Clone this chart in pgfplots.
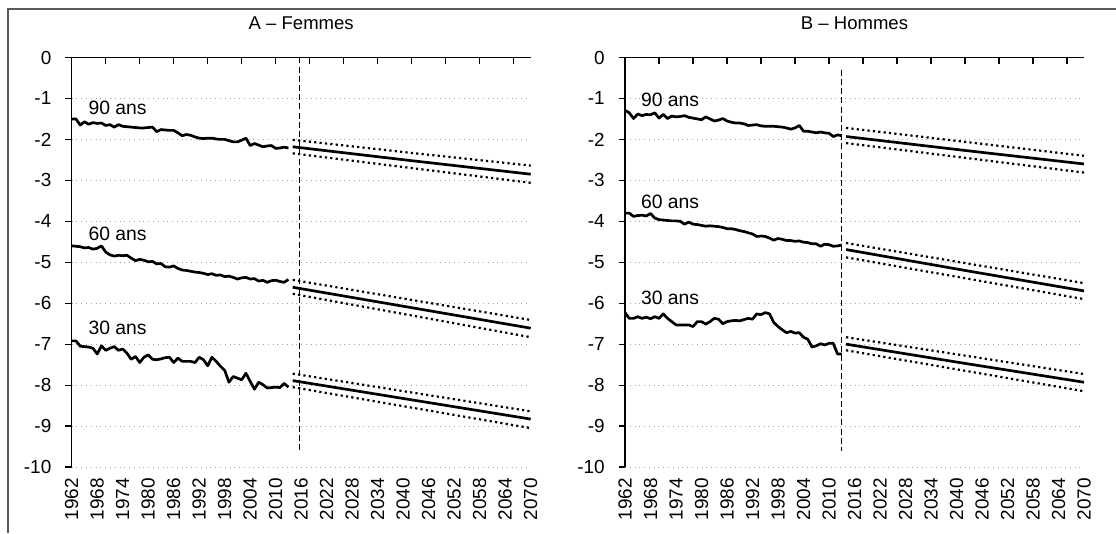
\documentclass[border=0pt]{standalone}
\usepackage{fontspec}
\setmainfont{Liberation Sans}
\usepackage{pgfplots}
\usepackage{pgfplotstable}
\pgfplotsset{compat=1.18}

% historical series, women (A)
\pgfplotstableread{
year a90 a60 a30
1962 -1.50 -4.60 -6.92
1963 -1.50 -4.61 -6.92
1964 -1.65 -4.62 -7.05
1965 -1.57 -4.65 -7.06
1966 -1.63 -4.64 -7.07
1967 -1.59 -4.68 -7.10
1968 -1.61 -4.66 -7.24
1969 -1.60 -4.60 -7.04
1970 -1.66 -4.75 -7.15
1971 -1.64 -4.82 -7.10
1972 -1.70 -4.85 -7.06
1973 -1.64 -4.83 -7.15
1974 -1.68 -4.84 -7.12
1975 -1.69 -4.83 -7.22
1976 -1.70 -4.90 -7.37
1977 -1.71 -4.96 -7.30
1978 -1.72 -4.93 -7.45
1979 -1.72 -4.95 -7.32
1980 -1.71 -4.99 -7.26
1981 -1.70 -4.98 -7.37
1982 -1.81 -5.04 -7.38
1983 -1.76 -5.03 -7.36
1984 -1.77 -5.11 -7.33
1985 -1.78 -5.12 -7.32
1986 -1.78 -5.09 -7.45
1987 -1.84 -5.15 -7.34
1988 -1.91 -5.19 -7.42
1989 -1.88 -5.20 -7.42
1990 -1.90 -5.22 -7.42
1991 -1.94 -5.24 -7.45
1992 -1.97 -5.25 -7.32
1993 -1.98 -5.27 -7.38
1994 -1.97 -5.30 -7.53
1995 -1.97 -5.28 -7.32
1996 -1.99 -5.32 -7.42
1997 -2.00 -5.31 -7.54
1998 -2.00 -5.35 -7.64
1999 -2.03 -5.34 -7.93
2000 -2.06 -5.37 -7.79
2001 -2.06 -5.41 -7.83
2002 -2.02 -5.38 -7.87
2003 -1.97 -5.37 -7.71
2004 -2.15 -5.41 -7.91
2005 -2.10 -5.40 -8.10
2006 -2.14 -5.46 -7.93
2007 -2.18 -5.44 -7.99
2008 -2.16 -5.49 -8.07
2009 -2.15 -5.45 -8.06
2010 -2.22 -5.44 -8.05
2011 -2.21 -5.47 -8.06
2012 -2.19 -5.49 -7.96
2013 -2.21 -5.42 -8.05
}\histA

% projections, women (A): central, upper, lower
\pgfplotstableread{
year c90 u90 l90 c60 u60 l60 c30 u30 l30
2014 -2.18 -2.01 -2.34 -5.61 -5.43 -5.77 -7.89 -7.72 -8.05
2042 -2.52 -2.33 -2.70 -6.11 -5.92 -6.30 -8.36 -8.18 -8.55
2070 -2.85 -2.64 -3.06 -6.61 -6.41 -6.83 -8.83 -8.64 -9.05
}\projA

% historical series, men (B)
\pgfplotstableread{
year b90 b60 b30
1962 -1.29 -3.80 -6.23
1963 -1.35 -3.80 -6.37
1964 -1.49 -3.88 -6.37
1965 -1.38 -3.86 -6.33
1966 -1.42 -3.85 -6.37
1967 -1.39 -3.87 -6.34
1968 -1.40 -3.81 -6.38
1969 -1.35 -3.92 -6.33
1970 -1.48 -3.96 -6.37
1971 -1.39 -3.97 -6.26
1972 -1.49 -3.98 -6.37
1973 -1.43 -3.99 -6.45
1974 -1.45 -3.99 -6.53
1975 -1.44 -4.00 -6.53
1976 -1.42 -4.07 -6.53
1977 -1.46 -4.02 -6.53
1978 -1.48 -4.07 -6.57
1979 -1.50 -4.08 -6.45
1980 -1.52 -4.10 -6.45
1981 -1.45 -4.12 -6.51
1982 -1.50 -4.11 -6.45
1983 -1.55 -4.12 -6.37
1984 -1.53 -4.13 -6.39
1985 -1.49 -4.15 -6.50
1986 -1.55 -4.18 -6.45
1987 -1.58 -4.18 -6.43
1988 -1.60 -4.20 -6.42
1989 -1.60 -4.23 -6.43
1990 -1.62 -4.25 -6.40
1991 -1.66 -4.28 -6.37
1992 -1.65 -4.31 -6.39
1993 -1.64 -4.37 -6.26
1994 -1.67 -4.36 -6.28
1995 -1.68 -4.37 -6.23
1996 -1.68 -4.41 -6.26
1997 -1.68 -4.46 -6.47
1998 -1.69 -4.42 -6.57
1999 -1.70 -4.44 -6.65
2000 -1.72 -4.47 -6.72
2001 -1.75 -4.47 -6.69
2002 -1.72 -4.49 -6.73
2003 -1.66 -4.48 -6.72
2004 -1.80 -4.51 -6.83
2005 -1.80 -4.52 -6.88
2006 -1.82 -4.55 -7.07
2007 -1.84 -4.55 -7.04
2008 -1.82 -4.61 -6.99
2009 -1.84 -4.56 -7.02
2010 -1.85 -4.57 -6.98
2011 -1.93 -4.61 -6.98
2012 -1.89 -4.60 -7.24
2013 -1.91 -4.58 -7.24
}\histB

% projections, men (B)
\pgfplotstableread{
year c90 u90 l90 c60 u60 l60 c30 u30 l30
2014 -1.93 -1.72 -2.09 -4.69 -4.53 -4.88 -7.00 -6.83 -7.15
2042 -2.27 -2.06 -2.45 -5.20 -5.02 -5.39 -7.47 -7.28 -7.65
2070 -2.60 -2.40 -2.81 -5.70 -5.51 -5.90 -7.93 -7.73 -8.15
}\projB

\tikzset{
  lab/.style={font=\fontsize{9.7}{10}\selectfont, anchor=center, inner sep=0pt},
  solidln/.style={black, line width=1.35bp, line join=round},
  band/.style={black, line width=1.1bp, dash pattern=on 1.1bp off 1.6bp},
  vline/.style={black, line width=0.5bp, dash pattern=on 3bp off 1.6bp},
}

\pgfplotsset{
  panel/.style={
    scale only axis,
    width=229.5bp, height=204.75bp,
    anchor=south west,
    xmin=1962, xmax=2070, ymin=-10, ymax=0,
    axis line style={draw=none},
    tick align=inside,
    major tick length=3.2bp,
    every tick/.style={black, line width=0.6bp},
    xtick pos=right, xticklabel pos=left,
    ytick pos=left,
    xtick={1962,1970,...,2066},
    xticklabels={},
    extra x ticks={1962,1968,...,2070},
    extra x tick labels={1962,1968,1974,1980,1986,1992,1998,2004,2010,2016,2022,2028,2034,2040,2046,2052,2058,2064,2070},
    extra x tick style={major tick length=0pt, grid=none},
    xticklabel style={yshift=-5.5bp, rotate=90, anchor=east, inner sep=0pt,
      font=\fontsize{9.5}{10}\selectfont},
    ytick={-10,-9,...,0},
    yticklabels={-10,-9,-8,-7,-6,-5,-4,-3,-2,-1,0},
    ytick style={xshift=-3.2bp},
    yticklabel style={anchor=east, inner sep=0pt, xshift=-10bp,
      font=\fontsize{9.5}{10}\selectfont},
    ymajorgrids,
    major grid style={black!35, dotted, line width=0.5bp},
    title style={at={(0.5,1)}, anchor=base, yshift=8bp, font=\fontsize{9.3}{10}\selectfont},
    clip=false,
  },
}

\begin{document}
\begin{tikzpicture}[x=1bp,y=1bp]
\useasboundingbox (0,0) rectangle (558,266.5);
\draw[line width=1.2bp, black!65] (4,0) -- (4,262) -- (558,262);

\begin{axis}[panel, at={(35.85bp,33bp)}, title={A -- Femmes}]
  \draw[black, line width=0.75bp] (rel axis cs:0,0) -- (rel axis cs:0,1) -- (rel axis cs:1,1);
  \addplot[vline, no marks] coordinates {(2015.5,0) (2015.5,-9.6)};
  \addplot[solidln, no marks] table[x=year, y=a90] {\histA};
  \addplot[solidln, no marks] table[x=year, y=a60] {\histA};
  \addplot[solidln, no marks] table[x=year, y=a30] {\histA};
  \addplot[solidln, no marks] table[x=year, y=c90] {\projA};
  \addplot[band, no marks] table[x=year, y=u90] {\projA};
  \addplot[band, no marks] table[x=year, y=l90] {\projA};
  \addplot[solidln, no marks] table[x=year, y=c60] {\projA};
  \addplot[band, no marks] table[x=year, y=u60] {\projA};
  \addplot[band, no marks] table[x=year, y=l60] {\projA};
  \addplot[solidln, no marks] table[x=year, y=c30] {\projA};
  \addplot[band, no marks] table[x=year, y=u30] {\projA};
  \addplot[band, no marks] table[x=year, y=l30] {\projA};
  \node[lab] at (axis cs:1972.8,-1.23) {90 ans};
  \node[lab] at (axis cs:1972.8,-4.31) {60 ans};
  \node[lab] at (axis cs:1972.8,-6.60) {30 ans};
\end{axis}

\begin{axis}[panel, at={(312.5bp,33bp)}, title={B -- Hommes}]
  \draw[black, line width=0.75bp] (rel axis cs:0,0) -- (rel axis cs:0,1) -- (rel axis cs:1,1);
  \addplot[vline, no marks] coordinates {(2013,-0.3) (2013,-9.62)};
  \addplot[solidln, no marks] table[x=year, y=b90] {\histB};
  \addplot[solidln, no marks] table[x=year, y=b60] {\histB};
  \addplot[solidln, no marks] table[x=year, y=b30] {\histB};
  \addplot[solidln, no marks] table[x=year, y=c90] {\projB};
  \addplot[band, no marks] table[x=year, y=u90] {\projB};
  \addplot[band, no marks] table[x=year, y=l90] {\projB};
  \addplot[solidln, no marks] table[x=year, y=c60] {\projB};
  \addplot[band, no marks] table[x=year, y=u60] {\projB};
  \addplot[band, no marks] table[x=year, y=l60] {\projB};
  \addplot[solidln, no marks] table[x=year, y=c30] {\projB};
  \addplot[band, no marks] table[x=year, y=u30] {\projB};
  \addplot[band, no marks] table[x=year, y=l30] {\projB};
  \node[lab] at (axis cs:1972.6,-1.04) {90 ans};
  \node[lab] at (axis cs:1972.6,-3.53) {60 ans};
  \node[lab] at (axis cs:1972.6,-5.88) {30 ans};
\end{axis}
\end{tikzpicture}
\end{document}
